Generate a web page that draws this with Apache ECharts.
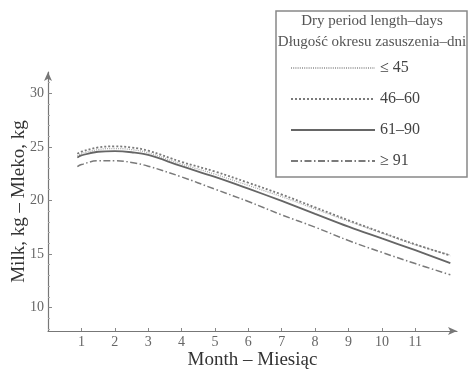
<!DOCTYPE html>
<html>
<head>
<meta charset="utf-8">
<script src="https://cdn.jsdelivr.net/npm/echarts@6/dist/echarts.min.js"></script>
<style>html,body{margin:0;padding:0;background:#fff}#c{width:470px;height:369px}</style>
</head>
<body>
<div id="c"></div>
<script>
var months = [0.88, 1, 1.5, 2, 2.5, 3, 4, 5, 6, 7, 8, 9, 10, 11, 12.05];
var le45   = [24.15, 24.35, 24.75, 24.85, 24.75, 24.45, 23.4, 22.45, 21.4, 20.35, 19.2, 18.05, 16.95, 15.85, 14.9];
var d46_60 = [24.35, 24.55, 24.95, 25.05, 24.95, 24.65, 23.6, 22.7, 21.65, 20.55, 19.35, 18.15, 17.0, 15.9, 14.85];
var d61_90 = [24.0, 24.2, 24.55, 24.6, 24.5, 24.25, 23.2, 22.2, 21.1, 19.95, 18.75, 17.55, 16.45, 15.35, 14.15];
var ge91   = [23.15, 23.35, 23.7, 23.7, 23.55, 23.2, 22.2, 21.05, 19.9, 18.65, 17.5, 16.25, 15.15, 14.1, 13.05];
var seriesNames = ['\u2264 45', '46\u201360', '61\u201390', '\u2265 91'];
var xTicks = [1, 2, 3, 4, 5, 6, 7, 8, 9, 10, 11];
var yTicks = [10, 15, 20, 25, 30];
var yMinor = [8, 9, 11, 12, 13, 14, 16, 17, 18, 19, 21, 22, 23, 24, 26, 27, 28, 29, 31];

function pairs(ys){ return months.map(function(m,i){ return [m, ys[i]]; }); }
var font = '"Liberation Serif", "DejaVu Serif", serif';
var chart = echarts.init(document.getElementById('c'), null, {renderer:'canvas'});
var styles = [
  {color:'#a8a8a8', width:1.3, type:[1,1.2]},
  {color:'#7a7a7a', width:1.8, type:[2,2]},
  {color:'#666666', width:1.8, type:'solid'},
  {color:'#7a7a7a', width:1.5, type:[7,2.5,1.5,2.5]}
];
var datas = [le45, d46_60, d61_90, ge91];
chart.setOption({
  animation:false,
  grid:{left:48, right:13, top:72, bottom:38, containLabel:false, outerBoundsMode:'none'},
  xAxis:{
    type:'value', min:0, max:12.25,
    axisLine:{lineStyle:{color:'#777', width:1.2}, symbol:['none','arrow'], symbolSize:[6,9]},
    axisTick:{inside:true, length:3, customValues:xTicks, lineStyle:{color:'#888'}},
    axisLabel:{customValues:xTicks, color:'#666', fontFamily:font, fontSize:14, margin:4},
    splitLine:{show:false},
    name:'Month \u2013 Miesi\u0105c', nameLocation:'middle', nameGap:20, nameMoveOverlap:false,
    nameTextStyle:{color:'#333', fontFamily:font, fontSize:19}
  },
  yAxis:[{
    type:'value', min:7.8, max:32,
    axisLine:{show:true, lineStyle:{color:'#777', width:1.2}, symbol:['none','arrow'], symbolSize:[6,9]},
    axisTick:{show:true, inside:true, length:4, customValues:yTicks, lineStyle:{color:'#888'}},
    axisLabel:{customValues:yTicks, color:'#666', fontFamily:font, fontSize:14, margin:4},
    splitLine:{show:false},
    name:'Milk, kg \u2013 Mleko, kg', nameLocation:'middle', nameGap:19, nameMoveOverlap:false,
    nameTextStyle:{color:'#333', fontFamily:font, fontSize:19}
  },{
    type:'value', min:7.8, max:32, position:'left',
    axisLine:{show:false},
    axisTick:{show:true, inside:true, length:2, customValues:yMinor, lineStyle:{color:'#aaa'}},
    axisLabel:{show:false}, splitLine:{show:false}
  }],
  legend:{
    show:true, orient:'vertical', left:285, top:55, itemWidth:84, itemHeight:12, itemGap:15,
    data:seriesNames, z:10, zlevel:1,
    itemStyle:{opacity:0},
    textStyle:{color:'#444', fontFamily:font, fontSize:16},
    selectedMode:false
  },
  graphic:{elements:[
    {type:'rect', x:276, y:11, shape:{x:0, y:0, width:191, height:166}, style:{fill:'#fff', stroke:'#888', lineWidth:1.5}, z:-10, silent:true},
    {type:'text', x:372, y:14, style:{text:'Dry period length\u2013days', font:'15px ' + font, fill:'#555', align:'center'}, silent:true},
    {type:'text', x:372, y:35, style:{text:'D\u0142ugo\u015b\u0107 okresu zasuszenia\u2013dni', font:'15px ' + font, fill:'#555', align:'center'}, silent:true}
  ]},
  series: datas.map(function(d,i){
    return {
      name:seriesNames[i], type:'line', data:pairs(d), smooth:0.4, symbol:'none', showSymbol:false,
      lineStyle:styles[i], itemStyle:{color:styles[i].color}, z:3+i
    };
  })
});
</script>
</body>
</html>
